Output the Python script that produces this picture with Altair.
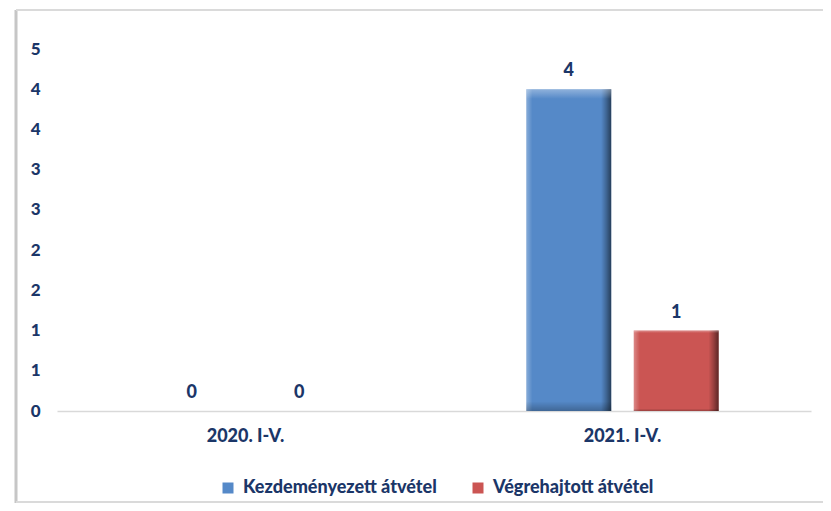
import altair as alt
import pandas as pd

periods = ["2020. I-V.", "2021. I-V."]
series = ["Kezdeményezett átvétel", "Végrehajtott átvétel"]
kezdemenyezett = [0, 4]
vegrehajtott = [0, 1]
y_ticks = [0, 0.5, 1, 1.5, 2, 2.5, 3, 3.5, 4, 4.5]
colors = ["#5589C8", "#CB5553"]

rows = []
for i, p in enumerate(periods):
    rows.append({"period": p, "series": series[0], "value": kezdemenyezett[i]})
    rows.append({"period": p, "series": series[1], "value": vegrehajtott[i]})
df = pd.DataFrame(rows)

TXT = "#1B3668"
FONT = "Lato"
WEIGHT = 900

x_enc = alt.X(
    "period:N",
    sort=periods,
    scale=alt.Scale(paddingInner=0.43, paddingOuter=0.215),
    axis=alt.Axis(
        title=None, labelAngle=0, ticks=False, tickSize=0,
        domainColor="#D9D9D9", domainWidth=1.5,
        labelPadding=16, labelFontSize=18, labelFont=FONT,
        labelFontWeight=WEIGHT, labelColor=TXT,
    ),
)
xo_enc = alt.XOffset(
    "series:N",
    scale=alt.Scale(domain=series, paddingInner=0.21, paddingOuter=0.105),
)
y_enc = alt.Y(
    "value:Q",
    scale=alt.Scale(domain=[0, 4.5], nice=False, zero=True),
    axis=alt.Axis(
        title=None, values=y_ticks, labelExpr="round(datum.value)",
        grid=False, domain=False, ticks=False, tickSize=0,
        labelPadding=17, labelFontSize=17, labelFont=FONT,
        labelFontWeight=WEIGHT, labelColor=TXT,
    ),
)

base = alt.Chart(df)

bars = base.mark_bar().encode(
    x=x_enc,
    xOffset=xo_enc,
    y=y_enc,
    color=alt.Color(
        "series:N",
        scale=alt.Scale(domain=series, range=colors),
        legend=alt.Legend(
            title=None, orient="none", direction="horizontal",
            legendX=162, legendY=430, padding=0,
            symbolType="square", symbolSize=121, symbolStrokeWidth=0,
            labelFont=FONT, labelFontSize=18, labelFontWeight=WEIGHT,
            labelColor=TXT, labelOffset=6, columnPadding=32, labelLimit=400,
        ),
    ),
)

shade_h = base.mark_bar(
    fill=alt.LinearGradient(
        gradient="linear", x1=0, x2=1, y1=0, y2=0,
        stops=[
            alt.GradientStop(offset=0, color="rgba(255,255,255,0.30)"),
            alt.GradientStop(offset=0.07, color="rgba(255,255,255,0)"),
            alt.GradientStop(offset=0.88, color="rgba(0,0,0,0)"),
            alt.GradientStop(offset=0.94, color="rgba(0,0,0,0.25)"),
            alt.GradientStop(offset=1, color="rgba(0,0,0,0.55)"),
        ],
    )
).encode(x=x_enc, xOffset=xo_enc, y=y_enc)

shade_v = base.mark_bar(
    fill=alt.LinearGradient(
        gradient="linear", x1=0, x2=0, y1=0, y2=1,
        stops=[
            alt.GradientStop(offset=0, color="rgba(255,255,255,0.35)"),
            alt.GradientStop(offset=0.03, color="rgba(255,255,255,0)"),
            alt.GradientStop(offset=0.97, color="rgba(0,0,0,0)"),
            alt.GradientStop(offset=1, color="rgba(0,0,0,0.25)"),
        ],
    )
).encode(x=x_enc, xOffset=xo_enc, y=y_enc)

labels = base.mark_text(
    baseline="alphabetic", dy=-13, font=FONT, fontSize=18,
    fontWeight=WEIGHT, color=TXT,
).encode(x=x_enc, xOffset=xo_enc, y=y_enc, text=alt.Text("value:Q", format="d"))

frame_data = alt.Data(values=[{"k": 1}])
left_border = alt.Chart(frame_data).mark_rule(color="#C6C6C6", strokeWidth=3).encode(
    x=alt.value(-41), y=alt.value(-39), y2=alt.value(455)
)
top_border = alt.Chart(frame_data).mark_rule(color="#DADADA", strokeWidth=2).encode(
    x=alt.value(-41), x2=alt.value(790), y=alt.value(-39)
)
bottom_border = alt.Chart(frame_data).mark_rule(color="#DADADA", strokeWidth=2).encode(
    x=alt.value(-41), x2=alt.value(790), y=alt.value(453)
)

chart = alt.layer(
    left_border, top_border, bottom_border, bars, shade_h, shade_v, labels
).properties(
    width=754,
    height=362,
    autosize=alt.AutoSizeParams(type="none"),
    padding={"left": 49, "top": 41, "right": 12, "bottom": 92},
    background="white",
).configure_view(stroke=None)

chart.save("out.html", embed_options={"renderer": "svg", "actions": False})
